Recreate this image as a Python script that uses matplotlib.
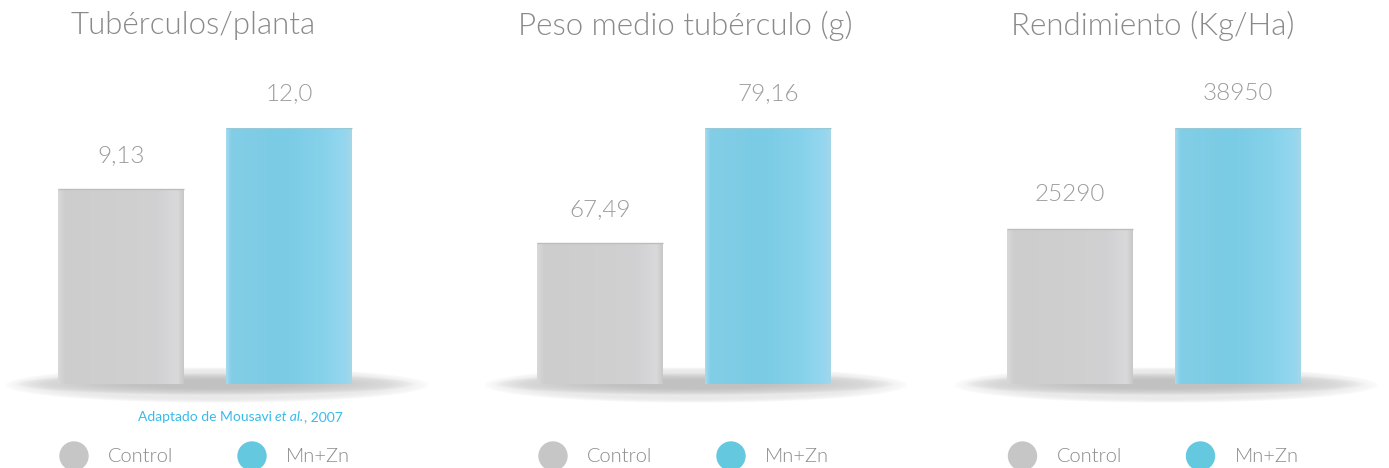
import numpy as np
import matplotlib
matplotlib.use("Agg")
import matplotlib.pyplot as plt
from matplotlib.patches import Circle
from matplotlib.colors import LinearSegmentedColormap

# ---------------- data ----------------
titles = ["Tubérculos/planta", "Peso medio tubérculo (g)", "Rendimiento (Kg/Ha)"]
series = ["Control", "Mn+Zn"]
control = [9.13, 67.49, 25290]
mnzn = [12.0, 79.16, 38950]
control_labels = ["9,13", "67,49", "25290"]
mnzn_labels = ["12,0", "79,16", "38950"]
source_text = ("Adaptado de Mousavi ", "et al.", ", 2007")

# ---------------- style / layout ----------------
W, H = 1389, 468
FONT = "Lato"
plt.rcParams["font.family"] = [FONT, "DejaVu Sans"]
LW = 300
title_color = "#8a8a8a"
value_color = "#9c9c9c"
legend_color = "#8a8a8a"
src_color = "#38bbea"

gray_stops = [(0.0, "#d8d8d8"), (0.06, "#cdcdcd"), (0.45, "#cfcfcf"),
              (0.8, "#d1d1d3"), (0.95, "#d9d9db"), (1.0, "#c8c8c8")]
blue_stops = [(0.0, "#a6dcef"), (0.04, "#82cee6"), (0.45, "#7acbe4"),
              (0.75, "#85d1ea"), (0.94, "#94d7ef"), (1.0, "#a4d6e8")]
cmaps = [LinearSegmentedColormap.from_list("g", gray_stops),
         LinearSegmentedColormap.from_list("b", blue_stops)]
legend_colors = ["#c6c6c6", "#64c8df"]

gray_centers = [121, 600, 1069.5]      # px, centre of first bar per panel
title_x = [193, 685, 1153]
ybases = [0, 53.2, 4324]              # axis lower limit per panel
step = 168                             # px between bar centres
bar_w = 0.75
bottom_px, top_px = 384, 128
xlo, xhi = -0.7, 1.7

fig = plt.figure(figsize=(W / 100, H / 100), dpi=100)
bg = fig.add_axes([0, 0, 1, 1], zorder=0)
bg.set_xlim(0, W)
bg.set_ylim(H, 0)
bg.axis("off")

# soft shadow image helper
def shadow(cx, cy):
    a1, b1 = 213, 18
    xs = np.linspace(cx - a1 - 4, cx + a1 + 4, 600)
    ys = np.linspace(cy - b1 - 4, cy + b1 + 4, 100)
    X, Y = np.meshgrid(xs, ys)
    r1 = np.sqrt(((X - cx) / a1) ** 2 + ((Y - cy) / b1) ** 2)
    al1 = 0.13 * np.clip((1 - r1) / 0.2, 0, 1) ** 0.6
    r2 = np.sqrt(((X - cx + 2) / 200) ** 2 + ((Y - cy + 1) / 11) ** 2)
    al2 = 0.28 * np.clip((1 - r2) / 0.6, 0, 1) ** 0.6
    al = 1 - (1 - al1) * (1 - al2)
    img = np.zeros(X.shape + (4,))
    img[..., :3] = 0.35
    img[..., 3] = al
    bg.imshow(img, extent=(xs[0], xs[-1], ys[-1], ys[0]), origin="upper",
              interpolation="bilinear", aspect="auto", zorder=1)

for i in range(3):
    gc = gray_centers[i]
    shadow(gc + 96, 385)

    left_px = gc + xlo * step
    width_px = (xhi - xlo) * step
    ax = fig.add_axes([left_px / W, (H - bottom_px) / H, width_px / W,
                       (bottom_px - top_px) / H], zorder=2)
    ax.patch.set_alpha(0)
    vals = [control[i], mnzn[i]]
    labels = [control_labels[i], mnzn_labels[i]]
    bars = ax.bar([0, 1], vals, width=bar_w, color="none", edgecolor="none")
    for j, b in enumerate(bars):
        x0 = b.get_x()
        grad = np.linspace(0, 1, 256).reshape(1, -1)
        im = ax.imshow(grad, cmap=cmaps[j], extent=(x0, x0 + bar_w, ybases[i], vals[j]),
                       aspect="auto", origin="lower", zorder=2)
        im.set_clip_path(b)
        ax.plot([x0, x0 + bar_w], [vals[j], vals[j]], color="#bdbdbd" if j == 0 else "#98c9d9",
                lw=1.0, zorder=3, solid_capstyle="butt")
        ax.annotate(labels[j], (j, vals[j]), xytext=(0, 24.5), textcoords="offset points",
                    ha="center", va="center", fontsize=17.5, color=value_color,
                    fontweight=LW)
    ax.set_xlim(xlo, xhi)
    ax.set_ylim(ybases[i], mnzn[i])
    ax.axis("off")

    bg.text(title_x[i], 26, titles[i], ha="center", va="center", fontsize=22.5,
            color=title_color, fontweight=LW)

    lx = [gc - 47, gc + 131]
    for k in range(2):
        bg.add_patch(Circle((lx[k], 456), 14, color=legend_colors[k], zorder=3))
        bg.text(lx[k] + 34, 456, series[k], ha="left", va="center", fontsize=14.5,
                color=legend_color, fontweight=LW)

# source note, centred at x=240
fs = 10
t1 = bg.text(0, 417, source_text[0], ha="left", va="center", fontsize=fs,
             color=src_color)
t2 = bg.annotate(source_text[1], xy=(1, 0.5), xycoords=t1, ha="left", va="center",
                 fontsize=fs, color=src_color, fontstyle="italic")
t3 = bg.annotate(source_text[2], xy=(1, 0.5), xycoords=t2, ha="left", va="center",
                 fontsize=fs, color=src_color)
fig.canvas.draw()
r = fig.canvas.get_renderer()
total = t3.get_window_extent(r).x1 - t1.get_window_extent(r).x0
t1.set_x(240 - total / 2)

fig.savefig("out.png", dpi=100)
